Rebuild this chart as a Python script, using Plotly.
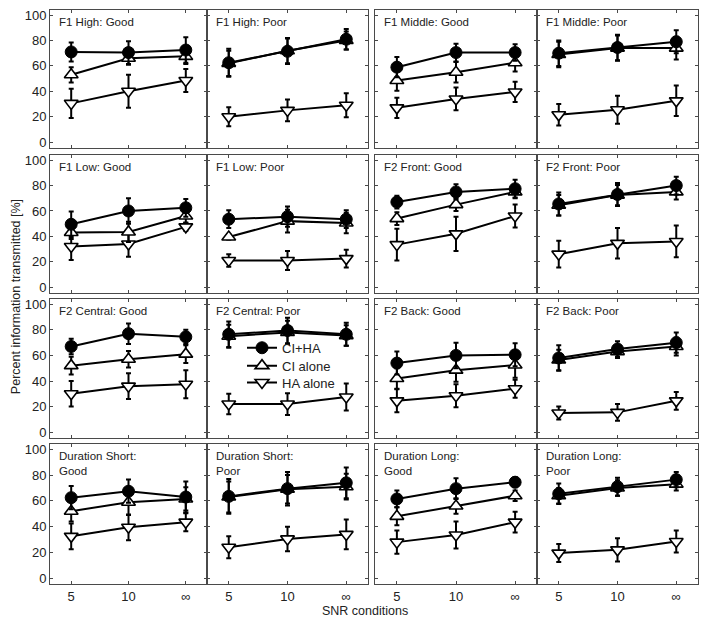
import plotly.graph_objects as go

# The page body has an 8px margin, so the figure is sized to fill the rest
OFF = 8
W, H = 709 - OFF, 628 - OFF


def px_x(p):
    return (p - OFF) / W


def px_y(p):
    return 1 - (p - OFF) / H


snr_labels = ["5", "10", "∞"]
y_ticks = [0, 20, 40, 60, 80, 100]

panel_titles = [
    "F1 High: Good", "F1 High: Poor", "F1 Middle: Good", "F1 Middle: Poor",
    "F1 Low: Good", "F1 Low: Poor", "F2 Front: Good", "F2 Front: Poor",
    "F2 Central: Good", "F2 Central: Poor", "F2 Back: Good", "F2 Back: Poor",
    "Duration Short:<br>Good", "Duration Short:<br>Poor",
    "Duration Long:<br>Good", "Duration Long:<br>Poor",
]

ci_ha_mean = [
    [71, 70.5, 72.5], [62.5, 71.5, 81], [59, 70.5, 70.5], [70, 74.5, 79],
    [49.5, 60, 62.5], [53.5, 55.5, 53.5], [67, 75, 77.5], [65.5, 73, 80],
    [67, 77, 74.5], [76.5, 79.5, 76.5], [54, 60, 60.5], [58, 65, 70],
    [62.5, 67.5, 63], [63.5, 69.5, 74], [61.5, 69.5, 74.5], [65.5, 71, 76.5],
]
ci_ha_err = [
    [7.5, 9, 10], [11, 10, 8], [8, 7, 6.5], [10, 10, 9],
    [10, 10, 7], [7, 8, 7], [5, 6, 7], [9, 9, 7],
    [6, 8, 5.5], [10, 10, 9], [9, 10, 9], [10, 6, 8],
    [9, 9, 12], [13.5, 13, 12], [6.5, 8, 4], [8, 7, 6],
]
ci_mean = [
    [53, 66, 67.5], [62, 72, 80], [48.5, 55, 62.5], [69, 74, 74],
    [43, 43.5, 56], [39.5, 52, 50.5], [54, 65, 75], [64.5, 72.5, 75],
    [52, 57, 61], [75, 78, 75.5], [42, 48.5, 52.5], [56.5, 63, 67],
    [52, 59, 61.5], [63, 69, 71], [48, 56, 64], [64, 70, 73],
]
ci_err = [
    [6, 5, 6], [10, 10, 7], [8, 8, 7], [10, 10, 9],
    [5, 8, 5], [2, 9, 8], [5, 5, 5], [8, 8, 6],
    [7, 6.5, 7], [9, 9, 8], [8, 9, 10], [8, 5, 7],
    [8, 10, 9], [12, 11, 10], [7, 6, 4], [6, 6, 5],
]
ha_mean = [
    [30.5, 40, 48.5], [20, 25, 29], [27, 34, 39.5], [21.5, 25.5, 32.5],
    [32, 34, 47.5], [21, 21, 22.5], [33.5, 42, 56], [26, 34.5, 36],
    [30, 36, 37.5], [22, 22, 27.5], [24.5, 28.5, 34], [15, 15.5, 24.5],
    [32.5, 39.5, 43.5], [24, 30.5, 34], [28, 33.5, 43.5], [19.5, 22, 28.5],
]
ha_err = [
    [11.5, 13, 9], [7.5, 8.5, 9.5], [8, 9, 8], [8.5, 11, 12],
    [10.5, 10, 3], [5, 7.5, 7], [12.5, 13.5, 9], [10.5, 12, 12.5],
    [10, 10, 11], [8, 8.5, 10.5], [9, 9, 7], [5, 6.5, 7],
    [10, 10, 7], [8.5, 9.5, 11.5], [9, 10.5, 8], [7, 9, 8.5],
]

series_names = ["HA alone", "CI alone", "CI+HA"]

# layout in screen pixels
col_px = [(50, 207), (207, 368), (375, 537), (537, 698)]
row_px = [(8, 147), (154, 293), (299, 439), (445, 586)]

FONT = "Liberation Sans, Arial, sans-serif"
TXT = "#222222"
AX = "#4a4a4a"

fig = go.Figure()
layout = {}

legend_ids = ["legend3", "legend2", "legend"]  # HA alone, CI alone, CI+HA
legend_rows = [383, 366, 348]

for i, title in enumerate(panel_titles):
    r, c = divmod(i, 4)
    n = i + 1
    xa = "x" if n == 1 else f"x{n}"
    ya = "y" if n == 1 else f"y{n}"
    x0, x1 = col_px[c]
    y0, y1 = row_px[r]
    layout["xaxis" if n == 1 else f"xaxis{n}"] = dict(
        domain=[px_x(x0), px_x(x1)], anchor=ya, type="category",
        categoryorder="array", categoryarray=snr_labels,
        range=[-0.37, 2.37], showgrid=False, zeroline=False,
        showline=True, linecolor=AX, linewidth=1, mirror="ticks",
        ticks="inside", ticklen=3, tickcolor=AX, tickwidth=1,
        showticklabels=(r == 3), ticklabeloverflow="allow",
        tickfont=dict(family=FONT, size=13, color=TXT),
    )
    layout["yaxis" if n == 1 else f"yaxis{n}"] = dict(
        domain=[px_y(y1), px_y(y0)], anchor=xa,
        range=[-4.7, 104], tickvals=y_ticks, showgrid=False, zeroline=False,
        showline=True, linecolor=AX, linewidth=1, mirror="ticks",
        ticks="inside", ticklen=3, tickcolor=AX, tickwidth=1,
        showticklabels=(c == 0), ticklabeloverflow="allow",
        tickfont=dict(family=FONT, size=13, color=TXT),
    )

    data = [(ha_mean[i], ha_err[i]), (ci_mean[i], ci_err[i]), (ci_ha_mean[i], ci_ha_err[i])]
    styles = [
        dict(symbol="triangle-down", size=12, color="white", line=dict(color="black", width=1.6)),
        dict(symbol="triangle-up", size=12, color="white", line=dict(color="black", width=1.6)),
        dict(symbol="circle", size=12, color="black", line=dict(color="black", width=1)),
    ]
    for s, ((m, e), st) in enumerate(zip(data, styles)):
        fig.add_trace(go.Scatter(
            x=snr_labels, y=m, xaxis=xa, yaxis=ya, mode="lines+markers",
            name=series_names[s], legend=legend_ids[s], showlegend=(i == 9),
            line=dict(color="black", width=2),
            marker=st,
            error_y=dict(type="data", array=e, visible=True, color="black",
                         thickness=2, width=2.5),
        ))
    fig.add_annotation(
        x=px_x(x0 + 7), y=px_y(y0 + 4), xref="paper", yref="paper",
        xanchor="left", yanchor="top", align="left", showarrow=False,
        text=title, font=dict(family=FONT, size=11.5, color=TXT),
    )

fig.add_annotation(
    x=px_x(16), y=px_y(297), xref="paper", yref="paper", textangle=-90,
    xanchor="center", yanchor="middle",
    showarrow=False, text="Percent information transmitted [%]",
    font=dict(family=FONT, size=12.5, color=TXT),
)
fig.add_annotation(
    x=px_x(365), y=px_y(613), xref="paper", yref="paper",
    xanchor="center", yanchor="middle",
    showarrow=False, text="SNR conditions",
    font=dict(family=FONT, size=12.5, color=TXT),
)

legend_common = dict(xanchor="left", yanchor="middle", bgcolor="rgba(0,0,0,0)",
                     font=dict(family=FONT, size=13, color=TXT))
legends = {}
for lid, row in zip(legend_ids, legend_rows):
    legends[lid] = dict(x=px_x(242), y=px_y(row), **legend_common)

fig.update_layout(
    width=W, height=H, margin=dict(l=0, r=0, t=0, b=0),
    paper_bgcolor="white", plot_bgcolor="white",
    **legends,
    **layout,
)

fig.write_html("out.html")
